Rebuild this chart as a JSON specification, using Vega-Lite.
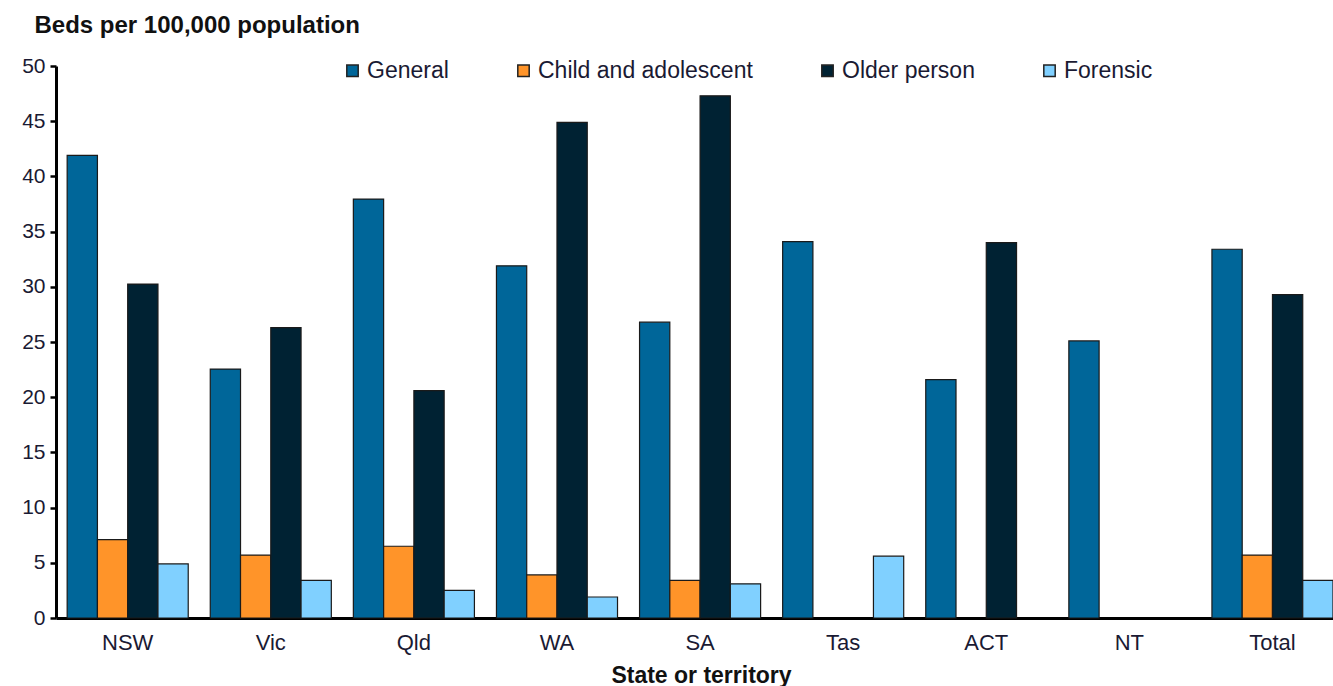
{
  "$schema": "https://vega.github.io/schema/vega-lite/v6.json",
  "width": 1277,
  "height": 552,
  "autosize": "none",
  "padding": {"left": 56, "top": 66, "right": 0, "bottom": 68},
  "background": "white",
  "config": {
    "view": {"stroke": null},
    "font": "Liberation Sans"
  },
  "data": {
    "values": [
      {"state": "NSW", "type": "General", "beds": 41.9},
      {"state": "NSW", "type": "Child and adolescent", "beds": 7.1},
      {"state": "NSW", "type": "Older person", "beds": 30.25},
      {"state": "NSW", "type": "Forensic", "beds": 4.9},
      {"state": "Vic", "type": "General", "beds": 22.55},
      {"state": "Vic", "type": "Child and adolescent", "beds": 5.7},
      {"state": "Vic", "type": "Older person", "beds": 26.3},
      {"state": "Vic", "type": "Forensic", "beds": 3.4},
      {"state": "Qld", "type": "General", "beds": 37.95},
      {"state": "Qld", "type": "Child and adolescent", "beds": 6.5},
      {"state": "Qld", "type": "Older person", "beds": 20.6},
      {"state": "Qld", "type": "Forensic", "beds": 2.5},
      {"state": "WA", "type": "General", "beds": 31.9},
      {"state": "WA", "type": "Child and adolescent", "beds": 3.9},
      {"state": "WA", "type": "Older person", "beds": 44.9},
      {"state": "WA", "type": "Forensic", "beds": 1.9},
      {"state": "SA", "type": "General", "beds": 26.8},
      {"state": "SA", "type": "Child and adolescent", "beds": 3.4},
      {"state": "SA", "type": "Older person", "beds": 47.3},
      {"state": "SA", "type": "Forensic", "beds": 3.1},
      {"state": "Tas", "type": "General", "beds": 34.1},
      {"state": "Tas", "type": "Forensic", "beds": 5.6},
      {"state": "ACT", "type": "General", "beds": 21.6},
      {"state": "ACT", "type": "Older person", "beds": 34.0},
      {"state": "NT", "type": "General", "beds": 25.1},
      {"state": "Total", "type": "General", "beds": 33.4},
      {"state": "Total", "type": "Child and adolescent", "beds": 5.7},
      {"state": "Total", "type": "Older person", "beds": 29.3},
      {"state": "Total", "type": "Forensic", "beds": 3.4}
    ]
  },
  "mark": {"type": "bar", "stroke": "#1a1a1a", "strokeWidth": 1.2},
  "encoding": {
    "x": {
      "field": "state",
      "type": "nominal",
      "sort": ["NSW", "Vic", "Qld", "WA", "SA", "Tas", "ACT", "NT", "Total"],
      "scale": {"paddingInner": 0.154, "paddingOuter": 0.039, "align": 1},
      "axis": {
        "title": "State or territory",
        "titleFont": "Liberation Sans",
        "titleFontSize": 23,
        "titleFontWeight": "bold",
        "titleColor": "#111",
        "titleBaseline": "top",
        "titleY": 46,
        "titleX": 645,
        "labelAngle": 0,
        "labelFontSize": 22,
        "labelColor": "#1a1a33",
        "labelPadding": 14,
        "ticks": false,
        "domainColor": "#000",
        "domainWidth": 3,
        "grid": false
      }
    },
    "xOffset": {
      "field": "type",
      "type": "nominal",
      "sort": ["General", "Child and adolescent", "Older person", "Forensic"]
    },
    "y": {
      "field": "beds",
      "type": "quantitative",
      "scale": {"domain": [0, 50], "nice": false},
      "axis": {
        "title": "Beds per 100,000 population",
        "titleAngle": 0,
        "titleAlign": "left",
        "titleBaseline": "alphabetic",
        "titleX": -22,
        "titleY": -34,
        "titleFontSize": 24,
        "titleFontWeight": "bold",
        "titleColor": "#111",
        "values": [0, 5, 10, 15, 20, 25, 30, 35, 40, 45, 50],
        "labelFontSize": 21,
        "labelColor": "#1a1a33",
        "labelPadding": 5,
        "tickSize": 6,
        "tickWidth": 2.5,
        "tickColor": "#000",
        "domainColor": "#000",
        "domainWidth": 3,
        "grid": false
      }
    },
    "color": {
      "field": "type",
      "type": "nominal",
      "sort": ["General", "Child and adolescent", "Older person", "Forensic"],
      "scale": {
        "domain": ["General", "Child and adolescent", "Older person", "Forensic"],
        "range": ["#006699", "#FF9429", "#002233", "#80D0FF"]
      },
      "legend": {
        "title": null,
        "orient": "none",
        "direction": "horizontal",
        "legendX": 285,
        "legendY": -7,
        "columns": 4,
        "columnPadding": 63,
        "symbolType": "square",
        "symbolSize": 130,
        "symbolStrokeColor": "#222",
        "symbolStrokeWidth": 1.5,
        "labelFontSize": 23,
        "labelColor": "#1a1a33",
        "labelOffset": 3,
        "labelLimit": 500
      }
    }
  }
}
